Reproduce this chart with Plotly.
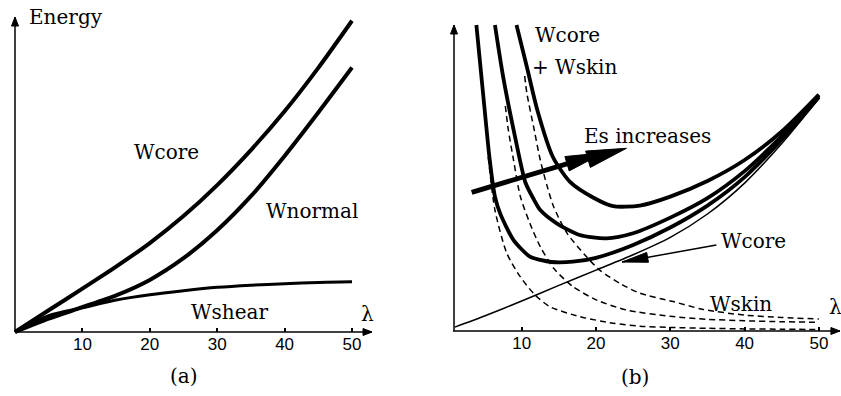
import plotly.graph_objects as go
import math

W, H = 841, 396

# ---------------- panel (a) data ----------------
lam_a = [0, 5, 10, 15, 20, 25, 30, 35, 40, 45, 50]
w_core_a = [0, 7, 14, 21.1, 28.7, 37.4, 47.4, 58.7, 71.2, 85.2, 100.4]
w_normal_a = [0, 4.3, 8, 11.8, 16.8, 23.8, 32.8, 43.8, 56.8, 70.8, 85.3]
w_shear_a = [0, 5.3, 7.8, 10.3, 12, 13.3, 14.4, 15.1, 15.6, 16, 16.2]
ticks_a = [10, 20, 30, 40, 50]

# ---------------- panel (b) data ----------------
lam_core_b = [1, 5, 10, 15, 20, 25, 30, 35, 40, 45, 50]
w_core_b = [1.3, 5, 10, 15.2, 20.3, 25.4, 31.2, 39, 49.3, 62.5, 77.5]

lam_sum1 = [3.9, 4.8, 5.7, 6.4, 7.1, 8.9, 11.1, 12.5, 14, 16.9, 20, 25, 30, 35, 40, 45, 50]
w_sum1 = [102, 79.2, 57, 44.8, 39.2, 30.3, 24.8, 23.7, 23, 23.1, 24.4, 28.7, 34.5, 41.8, 51.3, 63.8, 78]

lam_sum2 = [6.4, 7.5, 9.1, 10.5, 11.6, 12.5, 14.7, 17.8, 21.4, 25, 30, 35, 40, 45, 50]
w_sum2 = [102, 84.8, 64.8, 49.5, 44, 40.3, 35.9, 32, 30.9, 32.6, 37.8, 44.3, 53.3, 65, 78.5]

lam_sum3 = [9.3, 10.7, 12.1, 14.2, 16.5, 19.6, 22.3, 25.9, 30, 35, 40, 45, 50]
w_sum3 = [102, 88, 73.7, 58, 49.7, 44.5, 41.6, 41.8, 44.8, 50, 57, 66.5, 78.8]

lam_skin1 = [5.5, 6.4, 8.0, 9.8, 11.8, 13.8, 17.8, 22.3, 25.9, 30, 35, 40, 45, 50]
w_skin1 = [58, 40.3, 25.9, 18.1, 12, 8.1, 4.8, 2.6, 1.6, 1.2, 0.9, 0.7, 0.6, 0.5]

lam_skin2 = [7.8, 8.2, 8.9, 9.8, 11.1, 12.5, 14.3, 16.9, 20.1, 24.1, 30, 35, 40, 45, 50]
w_skin2 = [75, 67, 57, 45, 35.9, 28.1, 20.9, 14.8, 10.3, 7, 4.9, 3.9, 3.4, 3.1, 2.9]

lam_skin3 = [10.4, 10.7, 11.6, 12.5, 13.4, 14.3, 16.1, 18.7, 20.5, 23.2, 25.9, 30.4, 34.4, 40, 45, 50]
w_skin3 = [85, 79.2, 68.1, 57, 48.5, 41.4, 32.6, 24.8, 20.3, 15.9, 12.6, 9.8, 7.2, 5.3, 4.5, 4.0]
ticks_b = [10, 20, 30, 40, 50]

# ---------------- geometry ----------------
# panel a: px = 15 + 6.74*x ; py = 332 - 3.1*y
SXA, SYA = 6.74, 3.1
xa_rng = [(2 - 15) / SXA, (395 - 15) / SXA]
ya_rng = [(332 - 355) / SYA, (332 - 5) / SYA]
# panel b: px = 447.4 + 7.43*x ; py = 331 - 3*y
SXB, SYB = 7.43, 3.0
xb_rng = [(430 - 447.4) / SXB, (841 - 447.4) / SXB]
yb_rng = [(331 - 355) / SYB, (331 - 5) / SYB]

fig = go.Figure()

BLACK = "black"


def line(xs, ys, xaxis, yaxis, width, dash=None, shape="spline"):
    fig.add_trace(go.Scatter(
        x=xs, y=ys, mode="lines", xaxis=xaxis, yaxis=yaxis,
        line=dict(color=BLACK, width=width, dash=dash, shape=shape, smoothing=0.7),
        hoverinfo="skip", showlegend=False))


def head(tip, tail, L, Wd, sx, sy, xaxis, yaxis):
    dx = (tip[0] - tail[0]) * sx
    dy = (tip[1] - tail[1]) * sy
    n = math.hypot(dx, dy)
    ux, uy = dx / n, dy / n
    bx, by = tip[0] * sx - L * ux, tip[1] * sy - L * uy
    px_, py_ = -uy, ux
    c1 = ((bx + Wd / 2 * px_) / sx, (by + Wd / 2 * py_) / sy)
    c2 = ((bx - Wd / 2 * px_) / sx, (by - Wd / 2 * py_) / sy)
    fig.add_trace(go.Scatter(
        x=[tip[0], c1[0], c2[0], tip[0]], y=[tip[1], c1[1], c2[1], tip[1]],
        mode="lines", fill="toself", fillcolor=BLACK, xaxis=xaxis, yaxis=yaxis,
        line=dict(color=BLACK, width=1), hoverinfo="skip", showlegend=False))


def arrow(tail, tip, width, L, Wd, sx, sy, xaxis, yaxis):
    fig.add_trace(go.Scatter(
        x=[tail[0], tip[0]], y=[tail[1], tip[1]], mode="lines", xaxis=xaxis, yaxis=yaxis,
        line=dict(color=BLACK, width=width), hoverinfo="skip", showlegend=False))
    head(tip, tail, L, Wd, sx, sy, xaxis, yaxis)


# ---- panel (a) ----
arrow((0, 0), (52.97, 0), 1.5, 9, 7, SXA, SYA, "x", "y")
arrow((0, 0), (0, 101.6), 1.5, 9, 7, SXA, SYA, "x", "y")
line(lam_a, w_core_a, "x", "y", 4)
line(lam_a, w_normal_a, "x", "y", 4)
line(lam_a, w_shear_a, "x", "y", 3)

# ---- panel (b) ----
arrow((0.75, 0), (52.83, 0), 1.5, 9, 7, SXB, SYB, "x2", "y2")
arrow((0.89, 0), (0.89, 102), 1.5, 9, 7, SXB, SYB, "x2", "y2")
line(lam_skin1, w_skin1, "x2", "y2", 1.5, dash="6px,4px")
line(lam_skin2, w_skin2, "x2", "y2", 1.5, dash="6px,4px")
line(lam_skin3, w_skin3, "x2", "y2", 1.5, dash="6px,4px")
line(lam_core_b, w_core_b, "x2", "y2", 1.5)
line(lam_sum1, w_sum1, "x2", "y2", 3.8)
line(lam_sum2, w_sum2, "x2", "y2", 3.8)
line(lam_sum3, w_sum3, "x2", "y2", 3.8)

# Es increases arrow
arrow((3.27, 46.2), (21.0, 59.4), 5, 38, 15, SXB, SYB, "x2", "y2")
head((24.1, 60.9), (3.27, 46.2), 40, 17, SXB, SYB, "x2", "y2")
# Wcore pointer
arrow((36.2, 28.7), (23.5, 23.0), 1.5, 26, 10, SXB, SYB, "x2", "y2")

axis_common = dict(showgrid=False, zeroline=False, showline=False,
                   ticks="inside", ticklen=4, tickwidth=1.5, tickcolor=BLACK,
                   tickfont=dict(family="Liberation Sans", size=17, color=BLACK),
                   anchor="free", fixedrange=True)

fig.update_layout(
    width=W, height=H, margin=dict(l=0, r=0, t=0, b=0),
    paper_bgcolor="white", plot_bgcolor="white", showlegend=False,
    xaxis=dict(domain=[2 / W, 395 / W], range=xa_rng, tickvals=ticks_a,
               position=(H - 332) / H, **axis_common),
    yaxis=dict(domain=[(H - 355) / H, (H - 5) / H], range=ya_rng, visible=False,
               anchor="x", fixedrange=True),
    xaxis2=dict(domain=[430 / W, 841 / W], range=xb_rng, tickvals=ticks_b,
                position=(H - 331) / H, **axis_common),
    yaxis2=dict(domain=[(H - 355) / H, (H - 5) / H], range=yb_rng, visible=False,
                anchor="x2", fixedrange=True),
)

SERIF = dict(family="DejaVu Serif", size=20, color=BLACK)


def label(text, px, py, xanchor="center", size=20):
    f = dict(SERIF)
    f["size"] = size
    fig.add_annotation(text=text, x=px / W, y=1 - py / H, xref="paper", yref="paper",
                       showarrow=False, xanchor=xanchor, yanchor="middle", font=f)


label("Energy", 27, 17, "left")
label("Wcore", 166, 152)
label("Wnormal", 312, 211)
label("Wshear", 229, 312)
label("λ", 367.5, 314)
label("(a)", 184, 376)

label("Wcore", 567, 35)
label("+ Wskin", 530, 67, "left")
label("Es increases", 647, 136)
label("Wcore", 753, 241)
label("Wskin", 741, 304)
label("λ", 827, 307, "left")
label("(b)", 635, 377)

fig.write_html("out.html", config={"displayModeBar": False},
               post_script="document.body.style.margin='0';document.body.style.overflow='hidden';")
